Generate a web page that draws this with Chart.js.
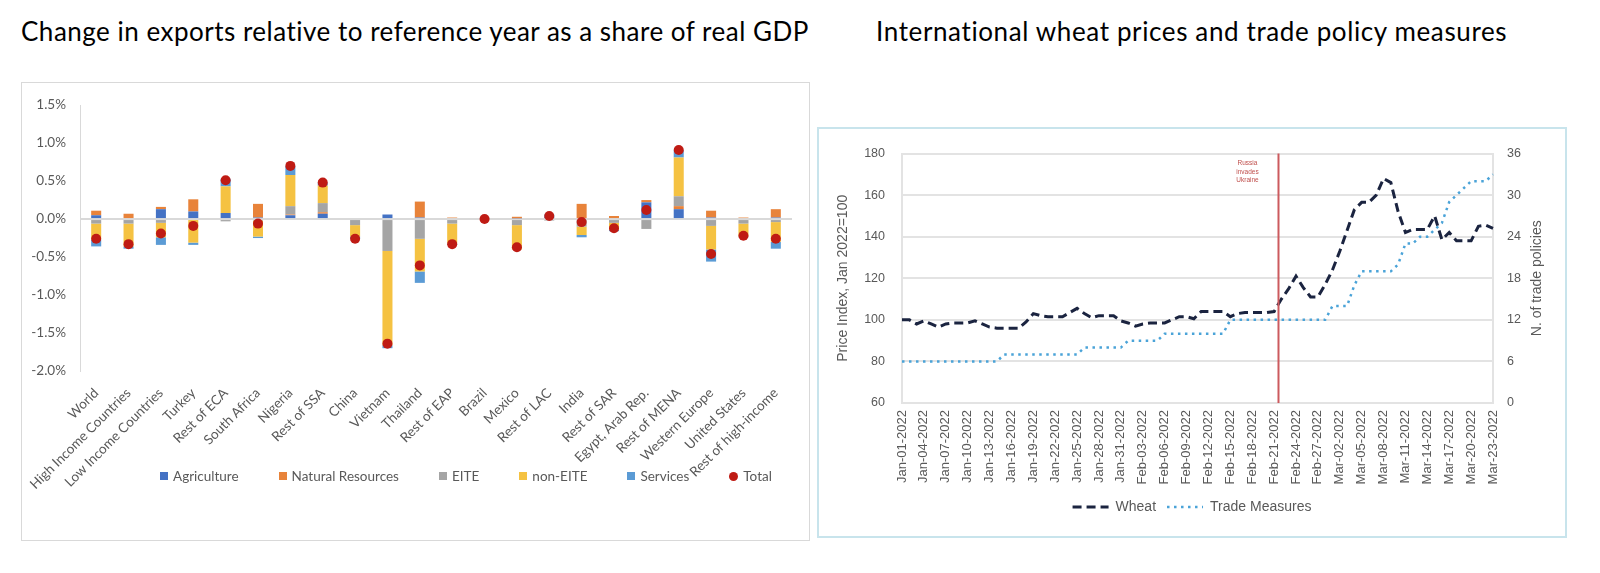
<!DOCTYPE html>
<html><head><meta charset="utf-8">
<script src="https://cdn.jsdelivr.net/npm/chart.js@4.4.1/dist/chart.umd.min.js"></script>
<style>
html,body{margin:0;padding:0;background:#fff;width:1600px;height:573px;overflow:hidden;position:relative;}
.title{position:absolute;font-family:Lato,sans-serif;font-size:26px;letter-spacing:0.5px;color:#000;white-space:nowrap;}
#t1{left:21px;top:15px;}
#t2{left:876px;top:15px;letter-spacing:0.62px;}
#box1{position:absolute;left:21px;top:82px;width:787px;height:457px;border:1px solid #D9D9D9;}
#box2{position:absolute;left:817px;top:127px;width:746px;height:407px;border:2px solid #C8E4EC;}
canvas{position:absolute;left:0;top:0;}
#leg1{position:absolute;left:138px;top:385px;display:flex;gap:40px;font-family:Lato,sans-serif;font-size:13.5px;color:#595959;align-items:center;white-space:nowrap;}
#leg1 .it{display:flex;align-items:center;gap:5px;}
#leg1 .sw{width:8px;height:8px;display:inline-block;}
</style></head>
<body>
<div class="title" id="t1">Change in exports relative to reference year as a share of real GDP</div>
<div class="title" id="t2">International wheat prices and trade policy measures</div>
<div id="box1"><canvas id="c1" width="787" height="457"></canvas><div id="leg1"></div></div>
<div id="box2"><canvas id="c2" width="746" height="407"></canvas></div>
<script>
// ---------- Left chart data (percent of real GDP) ----------
const categories = ["World","High Income Countries","Low Income Countries","Turkey","Rest of ECA","South Africa","Nigeria","Rest of SSA","China","Vietnam","Thailand","Rest of EAP","Brazil","Mexico","Rest of LAC","India","Rest of SAR","Egypt, Arab Rep.","Rest of MENA","Western Europe","United States","Rest of high-income"];
const agriculture      = [0.05, 0.00, 0.13, 0.10, 0.08, 0.02, 0.05, 0.07, 0.00, 0.06, 0.02, 0.00, 0.01, 0.01, 0.03, 0.00, 0.00, 0.22, 0.13, 0.02, 0.00, 0.02];
const naturalResources = [0.06, 0.07, 0.03, 0.16, 0.00, 0.18, 0.01, 0.02, 0.00, 0.00, 0.21, 0.02, 0.00, 0.02, 0.00, 0.20, 0.04, 0.03, 0.04, 0.09, 0.02, 0.11];
const eite             = [-0.06,-0.06,-0.05, 0.00,-0.03,-0.02, 0.11, 0.12,-0.08,-0.42,-0.26,-0.06, 0.00,-0.08,-0.02,-0.10,-0.05,-0.13, 0.13,-0.09,-0.06,-0.04];
const nonEite          = [-0.21,-0.30,-0.19,-0.31, 0.35,-0.21, 0.41, 0.23,-0.15,-1.24,-0.43,-0.26,-0.01,-0.32, 0.00,-0.11,-0.09, 0.00, 0.51,-0.31,-0.17,-0.26];
const services         = [-0.09,-0.03,-0.10,-0.03, 0.10,-0.02, 0.12, 0.04,-0.03,-0.04,-0.15,-0.02, 0.00, 0.00, 0.03,-0.03,-0.02, 0.00, 0.10,-0.16,-0.01,-0.09];
const total            = [-0.26,-0.33,-0.19,-0.09, 0.51,-0.06, 0.70, 0.48,-0.26,-1.64,-0.61,-0.33, 0.00,-0.37, 0.04,-0.04,-0.12, 0.12, 0.91,-0.46,-0.22,-0.26];
const seriesNames = ["Agriculture","Natural Resources","EITE","non-EITE","Services","Total"];
const seriesColors = ["#4472C4","#E8833A","#A5A5A5","#F5C242","#5B9BD5","#BF1B14"];

// ---------- Right chart data ----------
const dates = ["Jan-01-2022","Jan-02-2022","Jan-03-2022","Jan-04-2022","Jan-05-2022","Jan-06-2022","Jan-07-2022","Jan-08-2022","Jan-09-2022","Jan-10-2022",
"Jan-11-2022","Jan-12-2022","Jan-13-2022","Jan-14-2022","Jan-15-2022","Jan-16-2022","Jan-17-2022","Jan-18-2022","Jan-19-2022","Jan-20-2022",
"Jan-21-2022","Jan-22-2022","Jan-23-2022","Jan-24-2022","Jan-25-2022","Jan-26-2022","Jan-27-2022","Jan-28-2022","Jan-29-2022","Jan-30-2022",
"Jan-31-2022","Feb-01-2022","Feb-02-2022","Feb-03-2022","Feb-04-2022","Feb-05-2022","Feb-06-2022","Feb-07-2022","Feb-08-2022","Feb-09-2022",
"Feb-10-2022","Feb-11-2022","Feb-12-2022","Feb-13-2022","Feb-14-2022","Feb-15-2022","Feb-16-2022","Feb-17-2022","Feb-18-2022","Feb-19-2022",
"Feb-20-2022","Feb-21-2022","Feb-22-2022","Feb-23-2022","Feb-24-2022","Feb-25-2022","Feb-26-2022","Feb-27-2022","Feb-28-2022","Mar-01-2022",
"Mar-02-2022","Mar-03-2022","Mar-04-2022","Mar-05-2022","Mar-06-2022","Mar-07-2022","Mar-08-2022","Mar-09-2022","Mar-10-2022","Mar-11-2022",
"Mar-12-2022","Mar-13-2022","Mar-14-2022","Mar-15-2022","Mar-16-2022","Mar-17-2022","Mar-18-2022","Mar-19-2022","Mar-20-2022","Mar-21-2022",
"Mar-22-2022","Mar-23-2022"];
const wheat = [100,100,98,99.5,98,96.5,98,98.5,98.5,98.5,
 99.5,98,96.5,96,96,96,96,99,103,102,
 101.5,101.5,101.5,103.5,105.5,103,101,102,102,102,
 99.5,98.5,97,98,98.5,98.5,98.5,100,101.5,101.5,
 100.5,104,104,104,104,101.5,103,103.5,103.5,103.5,
 103.5,104,110,115,121,115.5,111,111,117,124,
 133,143,153,156.5,156.5,160,168,166,152,142,
 143.5,143.5,143.5,150,138.5,142,138,138,138,145,
 145.5,144];
const tradeMeasures = [6,6,6,6,6,6,6,6,6,6,
 6,6,6,6,7,7,7,7,7,7,
 7,7,7,7,7,8,8,8,8,8,
 8,9,9,9,9,9,10,10,10,10,
 10,10,10,10,10,12,12,12,12,12,
 12,12,12,12,12,12,12,12,12,14,
 14,14,17,19,19,19,19,19,20,23,
 23,24,24,25,26,29,30,31,32,32,
 32,33];
const priceTicks = {min:60, max:180, step:20};
const policyTicks = {min:0, max:36, step:6};
const eventIndex = 51.6; // Russia invades Ukraine (just after Feb-21-2022)
const eventText = ["Russia","invades","Ukraine"];

// ---------- Left chart ----------
const barSeries = [agriculture, naturalResources, eite, nonEite, services];
const leftFont = {family:"Lato", size:13.5};
const c1 = new Chart(document.getElementById('c1'), {
  type:'bar',
  data:{
    labels:categories,
    datasets:[
      ...barSeries.map((d,i)=>({label:seriesNames[i], data:d, backgroundColor:seriesColors[i], borderWidth:0, barPercentage:0.31, categoryPercentage:1, order:1})),
      {type:'line', label:seriesNames[5], data:total, showLine:false, pointRadius:5, pointHoverRadius:5, pointBackgroundColor:seriesColors[5], pointBorderColor:seriesColors[5], pointBorderWidth:0, stack:'total', order:0}
    ]
  },
  options:{
    responsive:false, animation:false, devicePixelRatio:1,
    layout:{padding:{top:16,right:17,bottom:0,left:0}},
    plugins:{legend:{display:false}, tooltip:{enabled:false}},
    scales:{
      x:{stacked:true, grid:{display:false}, border:{display:false},
         ticks:{autoSkip:false, minRotation:45, maxRotation:45, padding:6, color:'#595959', font:leftFont},
         afterFit:(s)=>{s.height=169;}},
      y:{stacked:true, min:-2, max:1.5,
         ticks:{stepSize:0.5, padding:14, color:'#595959', font:leftFont, callback:(v)=>v.toFixed(1)+'%'},
         grid:{drawTicks:false, lineWidth:2, color:(ctx)=> (ctx.tick && Math.abs(ctx.tick.value)<1e-9) ? '#D9D9D9' : 'rgba(0,0,0,0)'},
         border:{display:true, color:'#D9D9D9', width:1},
         afterFit:(s)=>{s.width=58;}}
    }
  }
});
// HTML legend for left chart
const leg1 = document.getElementById('leg1');
seriesNames.forEach((n,i)=>{
  const it=document.createElement('div'); it.className='it';
  const sw=document.createElement('span'); sw.className='sw'; sw.style.background=seriesColors[i];
  if(i===5){sw.style.borderRadius='50%'; sw.style.width='9px'; sw.style.height='9px';}
  const tx=document.createElement('span'); tx.textContent=n;
  it.appendChild(sw); it.appendChild(tx); leg1.appendChild(it);
});

// ---------- Right chart ----------
const rightFont = {family:"'Liberation Sans', Arial", size:12.5};
const extras = {
  id:'extras',
  afterDatasetsDraw(chart){
    const {ctx, chartArea, scales} = chart;
    const x = scales.x.getPixelForValue(eventIndex);
    ctx.save();
    ctx.strokeStyle = '#CC5A5E'; ctx.lineWidth = 2;
    ctx.beginPath(); ctx.moveTo(x, chartArea.top); ctx.lineTo(x, chartArea.bottom); ctx.stroke();
    ctx.fillStyle = '#C0504D'; ctx.font = "6.5px 'Liberation Sans', Arial"; ctx.textAlign='center'; ctx.textBaseline='middle';
    eventText.forEach((t,i)=>ctx.fillText(t, x-31, chartArea.top + 10 + i*8.5));
    ctx.restore();
  },
  afterDraw(chart){
    const {ctx, scales} = chart;
    const s = scales.y1;
    ctx.save();
    ctx.translate(s.right - 28, (s.top + s.bottom)/2);
    ctx.rotate(-Math.PI/2);
    ctx.fillStyle = '#595959'; ctx.font = "14px 'Liberation Sans', Arial";
    ctx.textAlign='center'; ctx.textBaseline='middle';
    ctx.fillText('N. of trade policies', 0, 0);
    ctx.restore();
  }
};
const c2 = new Chart(document.getElementById('c2'), {
  type:'line',
  data:{
    labels:dates,
    datasets:[
      {label:'Wheat', data:wheat, yAxisID:'y', borderColor:'#1B2440', backgroundColor:'#1B2440', borderWidth:3, borderDash:[9,5], pointRadius:0, tension:0, order:0},
      {label:'Trade Measures', data:tradeMeasures, yAxisID:'y1', borderColor:'#4AA3D8', backgroundColor:'#4AA3D8', borderWidth:2.5, borderDash:[2.5,4.5], pointRadius:0, tension:0, order:1}
    ]
  },
  options:{
    responsive:false, animation:false, devicePixelRatio:1,
    layout:{padding:{top:18,right:0,bottom:12,left:0}},
    plugins:{
      tooltip:{enabled:false},
      legend:{position:'bottom', labels:{usePointStyle:true, pointStyle:'line', pointStyleWidth:36, padding:11, color:'#595959', font:{family:"'Liberation Sans', Arial", size:14},
        generateLabels:(chart)=>{
          const items = Chart.defaults.plugins.legend.labels.generateLabels(chart);
          items.forEach((it)=>{
            const ds = chart.data.datasets[it.datasetIndex];
            it.lineDash = ds.borderDash; it.lineWidth = ds.borderWidth; it.strokeStyle = ds.borderColor; it.fillStyle = ds.borderColor; it.pointStyle = 'line';
          });
          return items;
        }}}
    },
    scales:{
      x:{grid:{display:false, drawTicks:false}, border:{display:false},
         ticks:{autoSkip:false, minRotation:90, maxRotation:90, padding:7, color:'#595959', font:{family:"'Liberation Sans', Arial", size:13},
                callback:(v,i)=> i%3===0 ? dates[i] : ''},
         afterFit:(s)=>{s.height=86;}},
      y:{position:'left', min:priceTicks.min, max:priceTicks.max,
         ticks:{stepSize:priceTicks.step, padding:17, color:'#595959', font:rightFont},
         grid:{drawTicks:false, color:'#E3E3E3', lineWidth:2},
         border:{display:true, color:'#E3E3E3', width:2},
         title:{display:true, text:'Price Index, Jan 2022=100', color:'#595959', font:{family:"'Liberation Sans', Arial", size:14}, padding:{top:16,bottom:0}},
         afterFit:(s)=>{s.width=83;}},
      y1:{position:'right', min:policyTicks.min, max:policyTicks.max,
         ticks:{stepSize:policyTicks.step, padding:14, color:'#595959', font:rightFont},
         grid:{display:false, drawTicks:false},
         border:{display:true, color:'#E3E3E3', width:2},
         afterFit:(s)=>{s.width=72;}}
    }
  },
  plugins:[extras]
});
</script>
</body></html>
